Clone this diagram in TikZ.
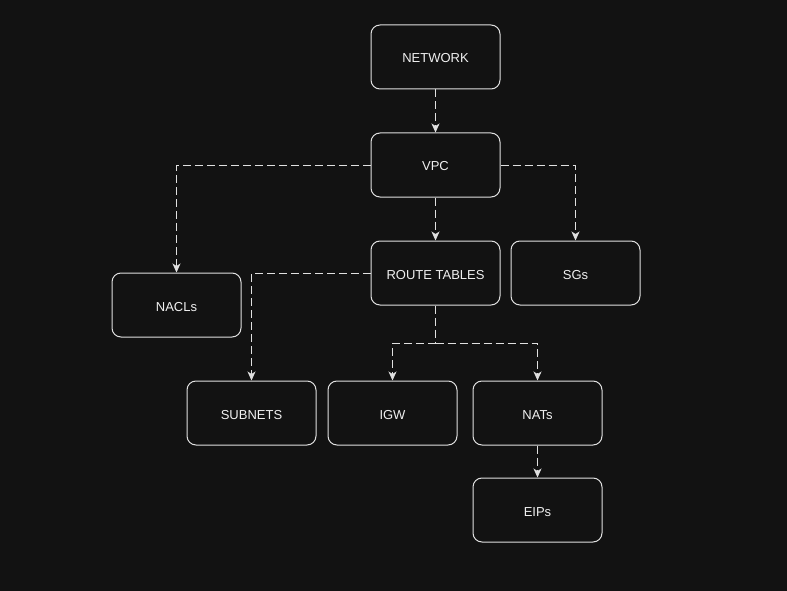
\documentclass[tikz,border=0pt]{standalone}
\usepackage{fontspec}
\setmainfont{Liberation Sans}
\usetikzlibrary{arrows.meta}
\definecolor{bg}{HTML}{121212}
\definecolor{edge}{HTML}{E0E0E0}
\definecolor{txt}{HTML}{F0F0F0}
\tikzset{
  box/.style={draw=edge, line width=1pt, rounded corners=9pt, minimum width=129pt, minimum height=64pt, inner sep=0pt, text=txt, font=\fontsize{13}{15}\selectfont, text height=12pt, text depth=0pt},
  link/.style={draw=edge, line width=1pt, dash pattern=on 8pt off 4pt, -{Stealth[length=9pt,width=8pt,inset=2.5pt]}},
  seg/.style={draw=edge, line width=1pt, dash pattern=on 8pt off 4pt}
}
\begin{document}
\begin{tikzpicture}[x=1pt,y=-1pt]
\fill[bg] (0,0) rectangle (787,591);
\useasboundingbox (0,0) rectangle (787,591);
\node[box] (network) at (435.5,57) {NETWORK};
\node[box] (vpc) at (435.5,165) {VPC};
\node[box] (rt) at (435.5,273) {ROUTE TABLES};
\node[box] (sgs) at (575.5,273) {SGs};
\node[box] (nacls) at (176.5,305) {NACLs};
\node[box] (subnets) at (251.5,413) {SUBNETS};
\node[box] (igw) at (392.5,413) {IGW};
\node[box] (nats) at (537.5,413) {NATs};
\node[box] (eips) at (537.5,510) {EIPs};
\coordinate (split) at (435.5,343);
\draw[link] (network) -- (vpc);
\draw[link] (vpc.west) -| (nacls.north);
\draw[link] (vpc.east) -| (sgs.north);
\draw[link] (vpc) -- (rt);
\draw[link] (rt.west) -| (subnets.north);
\draw[seg] (rt.south) -- (split);
\draw[link] (split) -| (igw.north);
\draw[link] (split) -| (nats.north);
\draw[link] (nats) -- (eips);
\end{tikzpicture}
\end{document}
